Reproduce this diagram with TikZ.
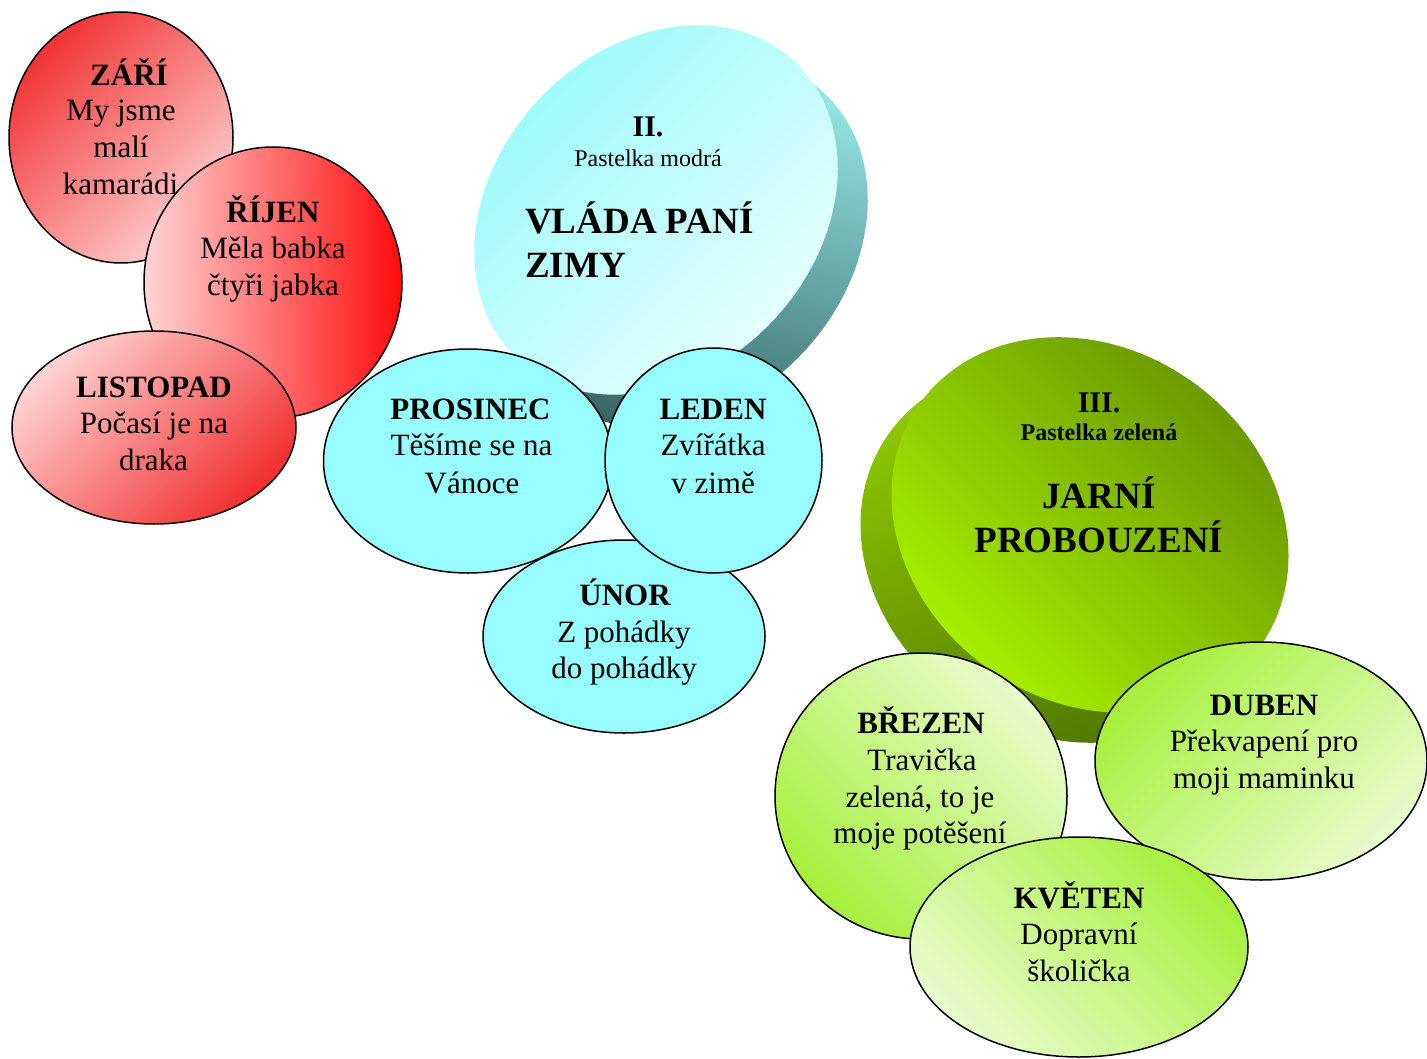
\documentclass[tikz,border=0pt]{standalone}
\usepackage{fontspec}
\setmainfont{Liberation Serif}
\usetikzlibrary{shapes.geometric}
\definecolor{redA}{RGB}{240,52,52}
\definecolor{pinkA}{RGB}{255,210,210}
\definecolor{redB}{RGB}{255,12,12}
\definecolor{pinkB}{RGB}{255,212,212}
\definecolor{cyanS}{RGB}{150,252,252}
\definecolor{cyanF1}{RGB}{150,250,250}
\definecolor{cyanF2}{RGB}{235,255,255}
\definecolor{tealT}{RGB}{156,240,240}
\definecolor{tealB}{RGB}{56,100,100}
\definecolor{grnF1}{RGB}{100,144,0}
\definecolor{grnF2}{RGB}{172,246,0}
\definecolor{grnST}{RGB}{146,206,0}
\definecolor{grnSB}{RGB}{80,118,0}
\definecolor{lgrnA}{RGB}{232,252,204}
\definecolor{lgrnB}{RGB}{166,240,60}
\begin{document}
\begin{tikzpicture}[x=1pt,y=-1pt,
  bubble/.style 2 args={ellipse, draw=black, line width=1.5pt, inner sep=0pt,
     minimum width=#1pt, minimum height=#2pt},
  disc/.style 2 args={ellipse, inner sep=0pt, minimum width=#1pt, minimum height=#2pt},
  tx/.style={anchor=base, inner sep=0pt, font=\fontsize{31}{37}\selectfont},
  tb/.style={anchor=base, inner sep=0pt, font=\fontsize{31}{37}\selectfont\bfseries},
  tbig/.style={anchor=base west, inner sep=0pt, font=\fontsize{37}{44}\selectfont\bfseries},
  tsmall/.style={anchor=base, inner sep=0pt, font=\fontsize{24}{28}\selectfont}]
\useasboundingbox (0,0) rectangle (1427,1059);

% ---- blue 3D disc ----
\node[disc={406}{322}, rotate=47, top color=tealT, bottom color=tealB, shading angle=-15] (blueback) at (686,242) {};
\node[disc={406}{322}, rotate=47, top color=cyanF1, bottom color=cyanF2, shading angle=45] (bluefront) at (656,210) {};
\node[tb, font=\fontsize{30}{36}\selectfont\bfseries] (t2a) at (648,137) {II.};
\node[tsmall] (t2b) at (648,167) {Pastelka modrá};
\node[tbig] (t2c) at (525,234) {VLÁDA PANÍ};
\node[tbig] (t2d) at (525,278) {ZIMY};

% ---- green 3D disc ----
\node[disc={418}{352}, rotate=-35.5, top color=grnST, bottom color=grnSB, shading angle=20] (grnback) at (1059,555) {};
\node[disc={418}{352}, rotate=-35.5, top color=grnF1, bottom color=grnF2, shading angle=-45] (grnfront) at (1090,525) {};
\node[tb, font=\fontsize{30}{36}\selectfont\bfseries] (t3a) at (1099,412) {III.};
\node[tsmall, font=\fontsize{24}{28}\selectfont\bfseries] (t3b) at (1099,440) {Pastelka zelená};
\node[tbig, anchor=base] (t3c) at (1099,508) {JARNÍ};
\node[tbig, anchor=base] (t3d) at (1099,552) {PROBOUZENÍ};

% ---- red bubbles ----
\node[bubble={224}{251}, top color=redA, bottom color=pinkA, shading angle=45] (zari) at (121,137.5) {};
\node[tb] (zari1) at (129,86) {ZÁŘÍ};
\node[tx] (zari2) at (121,121) {My jsme};
\node[tx] (zari3) at (121,158) {malí};
\node[tx] (zari4) at (120.5,195) {kamarádi};

\node[bubble={258}{271}, left color=pinkB, right color=redB] (rijen) at (273,282.5) {};
\node[tb] (rijen1) at (273,223) {ŘÍJEN};
\node[tx] (rijen2) at (273,259) {Měla babka};
\node[tx] (rijen3) at (273,296) {čtyři jabka};

\node[bubble={284}{193}, top color=pinkA, bottom color=redA!90!red, shading angle=45] (listopad) at (154,427.5) {};
\node[tb] (listopad1) at (154,397) {LISTOPAD};
\node[tx] (listopad2) at (154,433) {Počasí je na};
\node[tx] (listopad3) at (153.5,470) {draka};

% ---- blue bubbles ----
\node[bubble={282}{193}, fill=cyanS] (unor) at (624,636.5) {};
\node[tb] (unor1) at (625,605) {ÚNOR};
\node[tx] (unor2) at (624,642) {Z pohádky};
\node[tx] (unor3) at (624,678) {do pohádky};

\node[bubble={289}{224}, fill=cyanS] (prosinec) at (468,461) {};
\node[tb] (prosinec1) at (470.5,419) {PROSINEC};
\node[tx] (prosinec2) at (471.5,455) {Těšíme se na};
\node[tx] (prosinec3) at (472,493) {Vánoce};

\node[bubble={217}{225}, fill=cyanS] (leden) at (713.5,460.5) {};
\node[tb] (leden1) at (713,419) {LEDEN};
\node[tx] (leden2) at (713,455) {Zvířátka};
\node[tx] (leden3) at (713,493) {v zimě};

% ---- green bubbles ----
\node[bubble={292}{286}, top color=lgrnA, bottom color=lgrnB, shading angle=-45] (brezen) at (921,796) {};
\node[tb] (brezen1) at (921,733) {BŘEZEN};
\node[tx] (brezen2) at (922,770) {Travička};
\node[tx] (brezen3) at (920,807) {zelená, to je};
\node[tx] (brezen4) at (920,843) {moje potěšení};

\node[bubble={332}{238}, top color=lgrnB, bottom color=lgrnA, shading angle=45] (duben) at (1261,761) {};
\node[tb] (duben1) at (1264,715) {DUBEN};
\node[tx] (duben2) at (1264,751) {Překvapení pro};
\node[tx] (duben3) at (1264,788) {moji maminku};

\node[bubble={338}{220}, top color=lgrnB, bottom color=lgrnA, shading angle=-45] (kveten) at (1079,947) {};
\node[tb] (kveten1) at (1079,908) {KVĚTEN};
\node[tx] (kveten2) at (1079,944) {Dopravní};
\node[tx] (kveten3) at (1079,981) {školička};
\end{tikzpicture}
\end{document}
